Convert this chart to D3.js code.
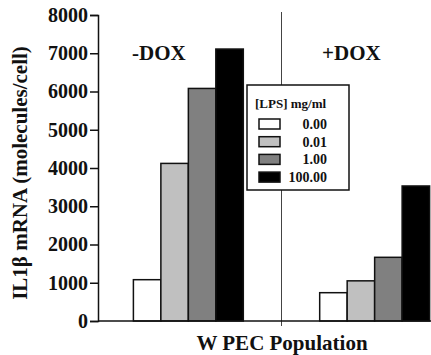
<!DOCTYPE html>
<html>
<head>
<meta charset="utf-8">
<script src="https://cdn.jsdelivr.net/npm/d3@7"></script>
<style>
  body { margin: 0; background: #fff; }
  svg { display: block; }
  text { font-family: "Liberation Serif", "Times New Roman", serif; font-weight: bold; fill: #111; }
</style>
</head>
<body>
<svg id="chart" width="431" height="355"></svg>
<script>
// data
var groups = ['-DOX', '+DOX'];
var doses = ['0.00', '0.01', '1.00', '100.00'];
var minusDox = [1080, 4120, 6080, 7110];
var plusDox = [740, 1050, 1665, 3530];
var yTicks = [0, 1000, 2000, 3000, 4000, 5000, 6000, 7000, 8000];
var fills = ['#ffffff', '#c0c0c0', '#808080', '#000000'];

var rows = [minusDox, plusDox];

var svg = d3.select('#chart');

var y = d3.scaleLinear()
	.domain([0, 8000])
	.range([321, 15]);

// outer band per DOX condition, inner band per LPS dose
var x0 = d3.scaleBand()
	.domain(groups)
	.range([98, 465])
	.paddingInner(0.41)
	.paddingOuter(0.19);

var x1 = d3.scaleBand()
	.domain(doses)
	.range([0, x0.bandwidth()]);

// divider between the two conditions
var midX = (x0('-DOX') + x0.bandwidth() + x0('+DOX')) / 2;
svg.append('line')
	.attr('x1', midX).attr('x2', midX)
	.attr('y1', 12).attr('y2', 326)
	.attr('stroke', '#444')
	.attr('stroke-width', 1);

// bars
groups.forEach(function(g, gi){
	svg.append('g')
		.attr('transform', 'translate(' + x0(g) + ',0)')
		.selectAll('rect')
		.data(rows[gi])
		.enter().append('rect')
		.attr('x', function(d, i){ return x1(doses[i]); })
		.attr('y', function(d){ return y(d); })
		.attr('width', x1.bandwidth())
		.attr('height', function(d){ return y(0) - y(d); })
		.attr('fill', function(d, i){ return fills[i]; })
		.attr('stroke', '#111')
		.attr('stroke-width', 1.5);
});

// y axis
var yAxis = svg.append('g')
	.attr('transform', 'translate(98,0)')
	.call(d3.axisLeft(y).tickValues(yTicks).tickSize(8).tickPadding(2).tickFormat(d3.format('d')));
yAxis.select('.domain').attr('stroke', '#111').attr('stroke-width', 1.5);
yAxis.selectAll('.tick line').attr('stroke', '#111').attr('stroke-width', 1.5);
yAxis.selectAll('.tick text')
	.style('font-family', '"Liberation Serif", serif')
	.style('font-weight', 'bold')
	.style('font-size', '20px')
	.attr('fill', '#111');

// x baseline
svg.append('line')
	.attr('x1', 98).attr('x2', 431)
	.attr('y1', y(0)).attr('y2', y(0))
	.attr('stroke', '#111')
	.attr('stroke-width', 1.5);

// condition labels
svg.selectAll('.cond')
	.data(groups)
	.enter().append('text')
	.attr('class', 'cond')
	.attr('x', function(d, i){ return i === 0 ? 132 : 322; })
	.attr('y', 60)
	.style('font-size', '21px')
	.text(function(d){ return d; });

// axis titles
svg.append('text')
	.attr('transform', 'translate(27,' + 173 + ') rotate(-90)')
	.attr('text-anchor', 'middle')
	.style('font-size', '21px')
	.text('IL1β mRNA (molecules/cell)');

svg.append('text')
	.attr('x', 282)
	.attr('y', 350)
	.attr('text-anchor', 'middle')
	.style('font-size', '21px')
	.text('W PEC Population');

// legend
var legend = svg.append('g').attr('transform', 'translate(247,85)');
legend.append('rect')
	.attr('width', 102).attr('height', 105)
	.attr('fill', '#fff')
	.attr('stroke', '#111')
	.attr('stroke-width', 1.5);
legend.append('text')
	.attr('x', 8).attr('y', 23)
	.style('font-size', '13px')
	.text('[LPS] mg/ml');
var item = legend.selectAll('.item')
	.data(doses)
	.enter().append('g')
	.attr('class', 'item')
	.attr('transform', function(d, i){ return 'translate(0,' + (34 + i * 17.7) + ')'; });
item.append('rect')
	.attr('x', 12).attr('width', 21).attr('height', 10)
	.attr('fill', function(d, i){ return fills[i]; })
	.attr('stroke', '#111')
	.attr('stroke-width', 1.5);
item.append('text')
	.attr('x', 80).attr('y', 10)
	.attr('text-anchor', 'end')
	.style('font-size', '14px')
	.text(function(d){ return d; });
</script>
</body>
</html>
